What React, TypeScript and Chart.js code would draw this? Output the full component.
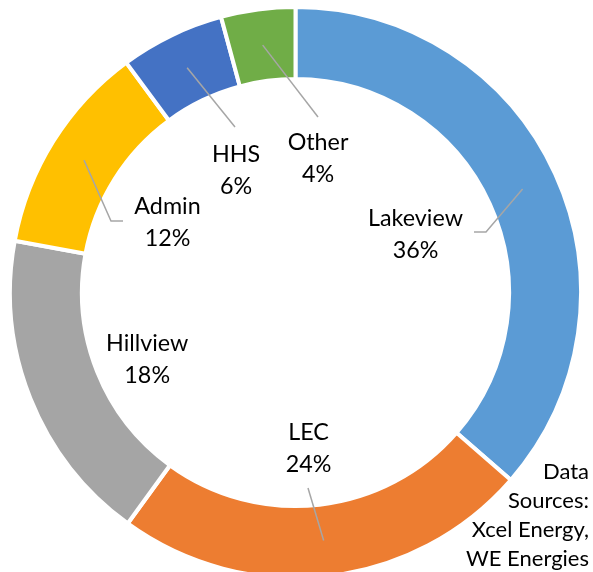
import React, { useEffect, useRef } from "react";
import { Chart, registerables } from "chart.js";

Chart.register(...registerables);

const categories = ["Lakeview", "LEC", "Hillview", "Admin", "HHS", "Other"];
const shares = [36.4, 23.6, 17.9, 12.0, 5.9, 4.2];
const colors = ["#5B9BD5", "#ED7D31", "#A5A5A5", "#FFC000", "#4472C4", "#70AD47"];
const sourceLines = ["Data", "Sources:", "Xcel Energy,", "WE Energies"];

// label layout, relative to the doughnut centre (pixels)
const labelLayout = [
  { tx: 120, ty: -66.5, end: [178.5, -60.5], elbow: [190.5, -60.5] },
  { tx: 13, ty: 147.5, end: [12.5, 195.5], elbow: null },
  { tx: -148.3, ty: 58.5, end: null, elbow: null },
  { tx: -128, ty: -79, end: [-172.5, -71.5], elbow: [-184.5, -71.5] },
  { tx: -59.5, ty: -130.2, end: [-60.5, -165.5], elbow: null },
  { tx: 22.5, ty: -142.5, end: [22.5, -175.5], elbow: null },
];

const LABEL_FONT = "23.3px Lato";
const SOURCE_FONT = "22px Lato";

const labelPlugin = {
  id: "ringLabels",
  afterDatasetsDraw(chart: any) {
    const ctx = chart.ctx as CanvasRenderingContext2D;
    const meta = chart.getDatasetMeta(0);
    const values = chart.data.datasets[0].data as number[];
    ctx.save();
    meta.data.forEach((arc: any, i: number) => {
      const p = arc.getProps(["x", "y", "startAngle", "endAngle", "innerRadius", "outerRadius"], true);
      const cx = p.x, cy = p.y;
      const mid = (p.startAngle + p.endAngle) / 2;
      const r = (p.innerRadius + p.outerRadius) / 2;
      const L = labelLayout[i];
      if (L.end) {
        ctx.beginPath();
        ctx.strokeStyle = "#A6A6A6";
        ctx.lineWidth = 1.5;
        ctx.moveTo(cx + Math.cos(mid) * r, cy + Math.sin(mid) * r);
        if (L.elbow) ctx.lineTo(cx + L.elbow[0], cy + L.elbow[1]);
        ctx.lineTo(cx + L.end[0], cy + L.end[1]);
        ctx.stroke();
      }
      ctx.fillStyle = "#000000";
      ctx.font = LABEL_FONT;
      ctx.textAlign = "center";
      ctx.textBaseline = "alphabetic";
      ctx.fillText(chart.data.labels[i], cx + L.tx, cy + L.ty);
      ctx.fillText(Math.round(values[i]) + "%", cx + L.tx, cy + L.ty + 32);
    });
    ctx.font = SOURCE_FONT;
    ctx.textAlign = "right";
    sourceLines.forEach((t, k) => {
      ctx.fillText(t, 589, 479 + k * 29);
    });
    ctx.restore();
  },
};

export default function App() {
  const ref = useRef<HTMLCanvasElement | null>(null);
  useEffect(() => {
    if (!ref.current) return;
    const chart = new Chart(ref.current, {
      type: "doughnut",
      data: {
        labels: categories,
        datasets: [
          {
            data: shares,
            backgroundColor: colors,
            borderColor: "#FFFFFF",
            borderWidth: 4,
            clip: false as any,
          } as any,
        ],
      },
      options: {
        responsive: false,
        animation: false,
        devicePixelRatio: 1,
        radius: 285.5,
        cutout: "74.8%",
        rotation: 0,
        layout: { padding: { left: 0, right: 2, top: 13, bottom: 0 } },
        plugins: { legend: { display: false }, tooltip: { enabled: false } },
      } as any,
      plugins: [labelPlugin],
    });
    return () => chart.destroy();
  }, []);
  return (
    <div style={{ position: "absolute", left: 0, top: 0, width: 593, height: 572, background: "#fff" }}>
      <canvas ref={ref} width={593} height={572} style={{ display: "block" }} />
    </div>
  );
}
